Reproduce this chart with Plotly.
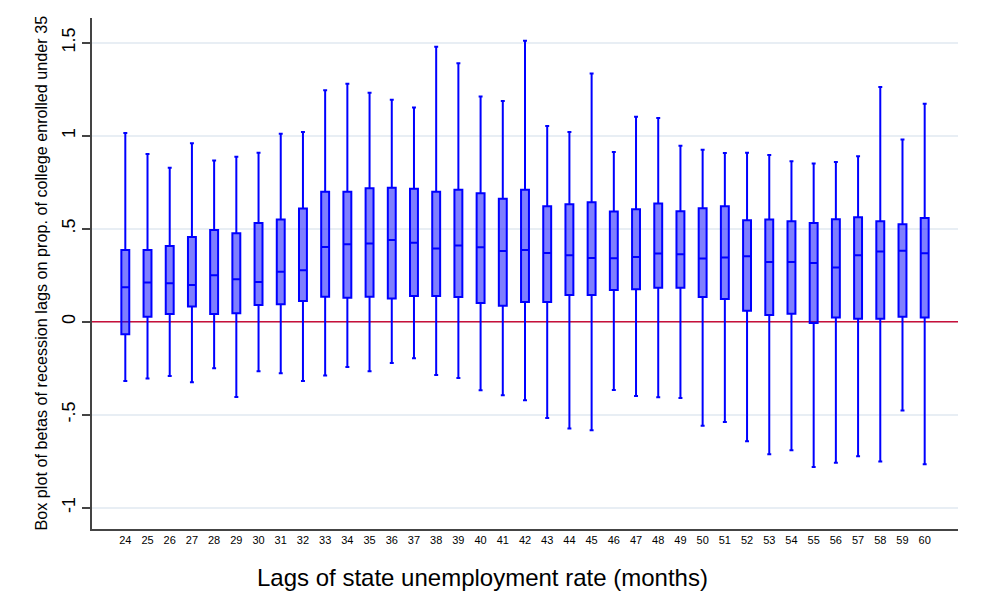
import plotly.graph_objects as go

lags = list(range(24, 61))
upper = [1.014, 0.901, 0.828, 0.959, 0.867, 0.887, 0.909, 1.011, 1.020, 1.244, 1.280, 1.231,
         1.194, 1.152, 1.478, 1.389, 1.211, 1.186, 1.511, 1.052, 1.020, 1.335, 0.912, 1.102,
         1.095, 0.946, 0.925, 0.907, 0.908, 0.896, 0.862, 0.851, 0.858, 0.889, 1.262, 0.980, 1.172]
q3 = [0.385, 0.385, 0.407, 0.455, 0.493, 0.475, 0.530, 0.550, 0.609, 0.699, 0.699, 0.717,
      0.720, 0.715, 0.699, 0.710, 0.690, 0.661, 0.710, 0.620, 0.631, 0.642, 0.593, 0.604,
      0.636, 0.594, 0.610, 0.621, 0.546, 0.549, 0.540, 0.531, 0.551, 0.562, 0.540, 0.524, 0.557]
median = [0.185, 0.210, 0.206, 0.197, 0.249, 0.228, 0.213, 0.269, 0.276, 0.401, 0.416, 0.421,
          0.439, 0.425, 0.394, 0.410, 0.400, 0.380, 0.385, 0.369, 0.357, 0.342, 0.341, 0.348,
          0.367, 0.362, 0.339, 0.345, 0.352, 0.321, 0.321, 0.316, 0.291, 0.357, 0.377, 0.382, 0.368]
q1 = [-0.068, 0.027, 0.041, 0.081, 0.041, 0.045, 0.090, 0.093, 0.111, 0.134, 0.129, 0.134,
      0.124, 0.138, 0.138, 0.133, 0.100, 0.086, 0.106, 0.106, 0.143, 0.143, 0.170, 0.174,
      0.183, 0.182, 0.133, 0.122, 0.059, 0.036, 0.043, -0.007, 0.022, 0.016, 0.016, 0.027, 0.022]
lower = [-0.319, -0.305, -0.292, -0.326, -0.251, -0.405, -0.267, -0.278, -0.319, -0.289, -0.244, -0.267,
         -0.222, -0.197, -0.287, -0.303, -0.369, -0.396, -0.423, -0.518, -0.575, -0.584, -0.367, -0.400,
         -0.407, -0.410, -0.560, -0.540, -0.643, -0.713, -0.691, -0.781, -0.759, -0.724, -0.752, -0.478, -0.767]

ytick_vals = [-1, -0.5, 0, 0.5, 1, 1.5]
ytick_text = ["-1", "-.5", "0", ".5", "1", "1.5"]
x_range = [22.5, 61.5]

fig = go.Figure()
fig.add_trace(go.Box(
    x=lags, q1=q1, median=median, q3=q3, lowerfence=lower, upperfence=upper,
    line=dict(color="#0000ff", width=2),
    fillcolor="rgba(0,0,255,0.5)",
    whiskerwidth=0.5,
    boxpoints=False,
    showlegend=False,
))

fig.add_shape(type="line", xref="x", x0=x_range[0], x1=x_range[1], yref="y", y0=0, y1=0,
              line=dict(color="#c8103a", width=1.5), layer="between")

fig.update_layout(
    width=975, height=593,
    margin=dict(l=84, r=25, t=10, b=72),
    paper_bgcolor="white", plot_bgcolor="white",
    font=dict(family="Liberation Sans, Arial, sans-serif", color="black"),
    boxgap=0.49,
    xaxis=dict(
        range=x_range, tickmode="array", tickvals=lags,
        ticktext=[str(v) for v in lags], tickfont=dict(size=11),
        showgrid=False, zeroline=False, ticks="",
        showline=True, linecolor="#444444", linewidth=1.5,
    ),
    yaxis=dict(
        range=[-1.115, 1.633], tickmode="array", tickvals=ytick_vals, ticktext=ytick_text,
        tickangle=-90, tickfont=dict(size=18),
        ticks="outside", ticklen=8, tickcolor="#444444", tickwidth=1.5,
        showgrid=True, gridcolor="#e8eef4", gridwidth=1.5, zeroline=False,
        showline=True, linecolor="#444444", linewidth=1.5,
    ),
    annotations=[
        dict(text="Lags of state unemployment rate (months)", xref="paper", yref="paper",
             x=0.4515, y=-0.094, xanchor="center", yanchor="middle", showarrow=False,
             font=dict(size=24)),
        dict(text="Box plot of betas of recession lags on prop. of college enrolled under 35",
             xref="paper", yref="paper", x=-0.060, y=0.5, xanchor="center", yanchor="middle",
             textangle=-90, showarrow=False, font=dict(size=16.2)),
    ],
)

fig.write_html("out.html")
